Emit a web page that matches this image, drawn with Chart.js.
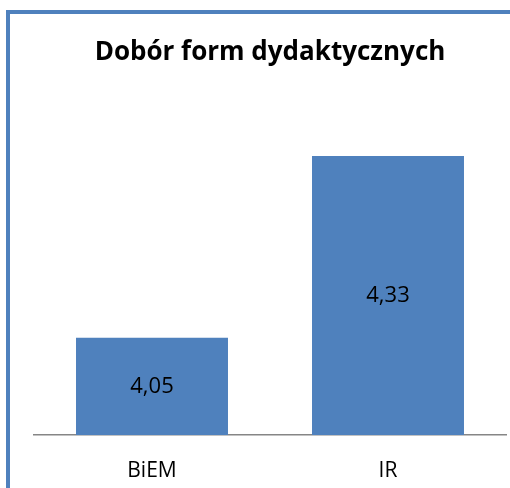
<!DOCTYPE html>
<html>
<head>
<meta charset="utf-8">
<script src="https://cdn.jsdelivr.net/npm/chart.js@4/dist/chart.umd.min.js"></script>
<style>
    html, body { margin: 0; padding: 0; background: #fff; overflow: hidden; }
    #wrap { position: relative; width: 510px; height: 488px; }
    #frame { position: absolute; left: 6px; top: 10px; width: 600px; height: 600px; border-left: 4px solid #4F81BD; border-top: 4px solid #4F81BD; box-sizing: border-box; }
    canvas { position: absolute; left: 0; top: 0; }
</style>
</head>
<body>
<div id="wrap">
    <div id="frame"></div>
    <canvas id="chart" width="510" height="488"></canvas>
</div>
<script>
const CATEGORIES = ['BiEM', 'IR'];
const VALUES = [4.05, 4.33];
const TITLE = 'Dobór form dydaktycznych';

const FONT = "'Open Sans', sans-serif";

// writes each value in the middle of the visible part of its bar, comma as decimal mark
const barLabels = {
    id: 'barLabels',
    afterDatasetsDraw(chart) {
        const ctx = chart.ctx;
        const y = chart.scales.y;
        const bottom = y.getPixelForValue(y.min);
        ctx.save();
        ctx.font = '22px ' + FONT;
        ctx.fillStyle = '#000';
        ctx.textAlign = 'center';
        ctx.textBaseline = 'middle';
        chart.getDatasetMeta(0).data.forEach((bar, i) => {
            const mid = (bar.y + bottom) / 2;
            ctx.fillText(VALUES[i].toFixed(2).replace('.', ','), bar.x, mid);
        });
        ctx.restore();
    }
};

new Chart(document.getElementById('chart'), {
    type: 'bar',
    data: {
        labels: CATEGORIES,
        datasets: [{
            data: VALUES,
            backgroundColor: '#4F81BD',
            borderWidth: 0,
            barPercentage: 0.644,
            categoryPercentage: 1
        }]
    },
    options: {
        responsive: false,
        animation: false,
        layout: { padding: { left: 34, right: 4, top: 0, bottom: 0 } },
        plugins: {
            legend: { display: false },
            tooltip: { enabled: false },
            title: {
                display: true,
                text: TITLE,
                color: '#000',
                font: { family: FONT, size: 26, weight: 'bold', lineHeight: 1.2 },
                padding: { top: 37, bottom: 42.3 }
            }
        },
        scales: {
            x: {
                grid: { display: false, drawTicks: false },
                border: { display: true, color: '#868686', width: 1.5 },
                ticks: { color: '#000', padding: 23, font: { family: FONT, size: 21, lineHeight: 1.2 } },
                afterFit(scale) { scale.height = 53; }
            },
            y: {
                display: false,
                min: 3.9,
                max: 4.4
            }
        }
    },
    plugins: [barLabels]
});
</script>
</body>
</html>
